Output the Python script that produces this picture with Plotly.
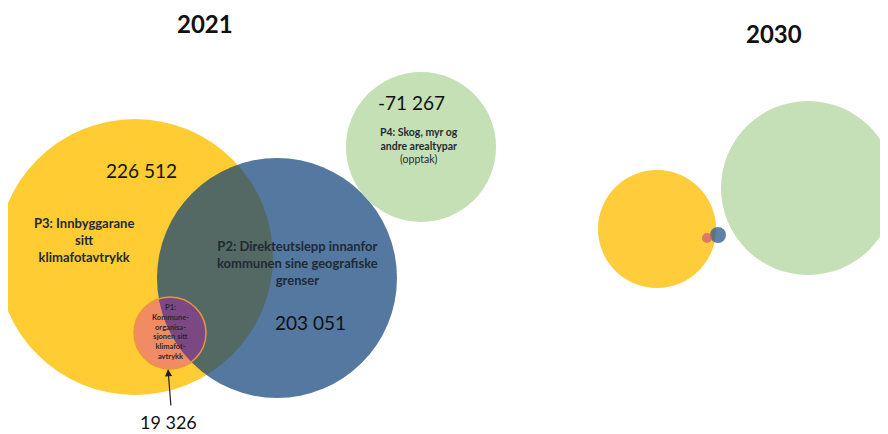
"""
Venn-style bubble chart: emission sectors 2021 vs 2030
"""

import plotly.graph_objects as go

# Sector values (tonnes CO2e) for 2021
sector_codes = ['P3', 'P2', 'P4', 'P1']
sector_values = [226512, 203051, -71267, 19326]
sector_labels = [
    '<b>P3: Innbyggarane<br>sitt<br>klimafotavtrykk</b>',
    '<b>P2: Direkteutslepp innanfor<br>kommunen sine geografiske<br>grenser</b>',
    '<b>P4: Skog, myr og<br>andre arealtypar</b><br>(opptak)',
    '<b>P1:<br>Kommune-<br>organisa-<br>sjonen sitt<br>klimafot-<br>avtrykk</b>',
]
years = ['2021', '2030']

# Circle geometry (pixel space) per sector, 2021 and 2030 panels
circles_2021_cx = [135, 277, 421, 170]
circles_2021_cy = [257, 278, 147, 333]
circles_2021_r = [138, 120, 75, 36]

circles_2030_cx = [657, 718, 808, 707]
circles_2030_cy = [229, 235, 188, 238]
circles_2030_r = [59, 8, 87, 5]

FILLS = {
    'P3': 'rgb(255,204,51)',
    'P2': 'rgba(12,62,119,0.70)',
    'P4': 'rgb(197,224,180)',
    'P1': 'rgba(209,3,203,0.32)',
}
FILLS_2030 = {
    'P3': 'rgb(255,204,60)',
    'P2': 'rgba(40,90,140,0.75)',
    'P4': 'rgb(197,224,182)',
    'P1': 'rgba(215,90,120,0.75)',
}
LINES = {'P1': 'rgb(235,150,60)'}

FONT = 'Lato, "Open Sans", sans-serif'
TEXT_DARK = '#1f2a33'

# page body has an 8px margin; shift the axes so data units == page pixels
PAGE_OFFSET = 8


def fmt(v):
    return f"{v:,}".replace(',', ' ')


fig = go.Figure()

shapes = []
# draw order: yellow, blue, green, pink (pink on top)
for i, code in enumerate(sector_codes):
    cx, cy, r = circles_2021_cx[i], circles_2021_cy[i], circles_2021_r[i]
    shapes.append(dict(
        type='circle', xref='x', yref='y',
        x0=cx - r, x1=cx + r, y0=cy - r, y1=cy + r,
        fillcolor=FILLS[code],
        line=dict(color=LINES.get(code, 'rgba(0,0,0,0)'), width=1.5 if code in LINES else 0),
        layer='below',
    ))
for i, code in enumerate(sector_codes):
    cx, cy, r = circles_2030_cx[i], circles_2030_cy[i], circles_2030_r[i]
    shapes.append(dict(
        type='circle', xref='x', yref='y',
        x0=cx - r, x1=cx + r, y0=cy - r, y1=cy + r,
        fillcolor=FILLS_2030[code],
        line=dict(width=0),
        layer='below',
    ))

annotations = []

# Year headings
for yr, (x, y) in zip(years, [(205, 23), (774, 33)]):
    annotations.append(dict(x=x, y=y, text=f'<b>{yr}</b>', showarrow=False,
                            font=dict(family=FONT, size=24, color='#111111')))

# Values
value_pos = [(141, 170), (310, 322), (411, 102), (168, 422)]
value_size = [19, 19, 19, 18]
for v, (x, y), s in zip(sector_values, value_pos, value_size):
    annotations.append(dict(x=x, y=y, text=fmt(v), showarrow=False,
                            font=dict(family=FONT, size=s, color='#111111')))

# Sector labels
label_pos = [(84, 240), (297, 263), (419, 145), (170, 332)]
label_size = [13, 13, 10.5, 7.5]
for lab, (x, y), s in zip(sector_labels, label_pos, label_size):
    annotations.append(dict(x=x, y=y, text=lab, showarrow=False,
                            font=dict(family=FONT, size=s, color=TEXT_DARK)))

# Arrow pointing at P1
annotations.append(dict(x=168, y=369, ax=171, ay=407, axref='x', ayref='y',
                        xref='x', yref='y', text='', showarrow=True,
                        arrowhead=2, arrowsize=1.2, arrowwidth=1.2,
                        arrowcolor='#222222'))

fig.update_layout(
    width=888 - PAGE_OFFSET,
    height=434 - PAGE_OFFSET,
    margin=dict(l=0, r=0, t=0, b=0),
    paper_bgcolor='white',
    plot_bgcolor='white',
    shapes=shapes,
    annotations=annotations,
    showlegend=False,
    xaxis=dict(range=[PAGE_OFFSET, 888], visible=False, fixedrange=True),
    yaxis=dict(range=[434, PAGE_OFFSET], visible=False, fixedrange=True),
)

fig.write_html("out.html")
